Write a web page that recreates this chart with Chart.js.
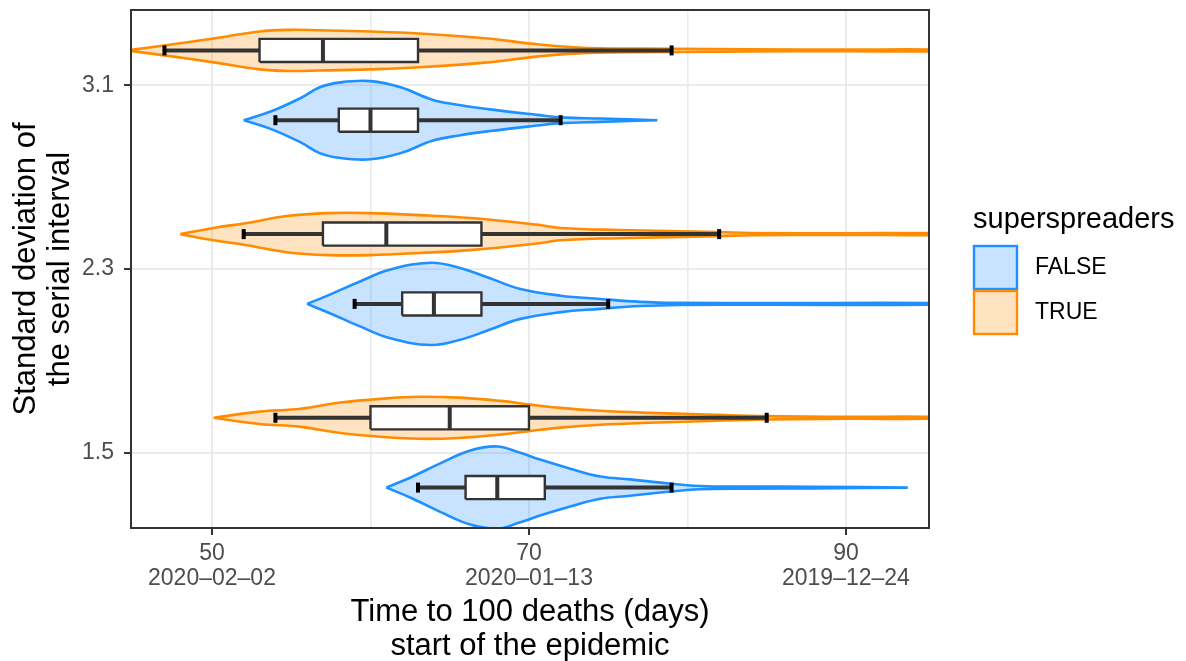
<!DOCTYPE html>
<html>
<head>
<meta charset="utf-8">
<script src="https://cdn.jsdelivr.net/npm/chart.js@4.4.1/dist/chart.umd.min.js"></script>
<style>
  html, body { margin: 0; padding: 0; background: #fff; }
  #wrap { width: 1186px; height: 661px; }
</style>
</head>
<body>
<div id="wrap"><canvas id="chart"></canvas></div>
<script>
// --- data ---
const sdLevels = ['1.5', '2.3', '3.1'];
const groups = ['FALSE', 'TRUE'];
const legendTitle = 'superspreaders';
const xTicks = [50, 70, 90];
const xDates = ['2020–02–02', '2020–01–13', '2019–12–24'];

// boxplot stats, one value per sd level (1.5, 2.3, 3.1)
const whiskerLowFalse = [63, 59, 54];
const q1False = [66, 62, 58];
const medianFalse = [68, 64, 60];
const q3False = [71, 67, 63];
const whiskerHighFalse = [79, 75, 72];

const whiskerLowTrue = [54, 52, 47];
const q1True = [60, 57, 53];
const medianTrue = [65, 61, 57];
const q3True = [70, 67, 63];
const whiskerHighTrue = [85, 82, 79];

// violin outlines: days and relative density
const daysFalse15 = [61.0, 62.5, 64.4, 66.3, 68.0, 69.4, 70.7, 72.6, 74.5, 76.4, 78.3, 80.8, 83.9, 88.0, 93.9];
const densFalse15 = [0, .24, .59, .90, 1.0, .85, .68, .46, .27, .20, .12, .04, .025, .02, 0];
const daysTrue15 = [50.1, 53.0, 55.6, 58.1, 60.6, 63.1, 65.6, 68.2, 70.1, 72.0, 74.5, 77.6, 80.8, 85.0, 90.0, 96.0];
const densTrue15 = [0, .15, .22, .37, .46, .51, .49, .41, .32, .24, .17, .12, .085, .04, .025, .02];

const daysFalse23 = [56.0, 57.4, 59.3, 61.2, 63.8, 65.6, 67.5, 69.4, 72.0, 74.5, 77.0, 79.5, 85.0, 96.0];
const densFalse23 = [0, .22, .54, .83, 1.0, .88, .63, .37, .20, .12, .05, .025, .02, .02];
const daysTrue23 = [48.0, 50.1, 52.2, 54.7, 57.3, 60.0, 63.1, 66.3, 70.5, 72.0, 75.7, 82.0, 84.0, 90.0, 96.0];
const densTrue23 = [0, .15, .27, .44, .51, .51, .46, .39, .23, .15, .10, .05, .025, .02, .02];

const daysFalse31 = [52.0, 53.7, 55.6, 56.8, 58.1, 60.0, 61.9, 63.9, 65.6, 67.4, 70.5, 72.0, 74.5, 78.1];
const densFalse31 = [0, .21, .54, .80, .92, .95, .80, .50, .37, .27, .13, .07, .04, 0];
const daysTrue31 = [44.6, 47.0, 50.1, 53.0, 54.9, 56.8, 60.0, 63.1, 67.4, 70.5, 73.7, 79.0, 84.0, 90.0, 96.0];
const densTrue31 = [0, .12, .29, .46, .50, .49, .46, .41, .29, .15, .06, .04, .025, .02, .02];

// --- looks ---
const FONT = "'Liberation Sans', Arial, Helvetica, sans-serif";
const lineColors = ['#1E90FF', '#FF8C00'];
const fillColors = ['rgba(30,144,255,0.25)', 'rgba(255,140,0,0.25)'];
const DODGE = 0.19;        // offset of FALSE / TRUE from the level
const BOX_HALF = 0.063;
const VIOLIN_HALF = 0.224;

const violins = [
  [[daysFalse15, densFalse15], [daysFalse23, densFalse23], [daysFalse31, densFalse31]],
  [[daysTrue15, densTrue15], [daysTrue23, densTrue23], [daysTrue31, densTrue31]]
];
const boxStats = [
  [whiskerLowFalse, q1False, medianFalse, q3False, whiskerHighFalse],
  [whiskerLowTrue, q1True, medianTrue, q3True, whiskerHighTrue]
];

const yCenter = (level, g) => level + (g === 0 ? -DODGE : DODGE);

const outline = (days, dens, yc) => {
  const upper = days.map((d, i) => ({x: d, y: yc + dens[i] * VIOLIN_HALF}));
  const lower = days.map((d, i) => ({x: d, y: yc - dens[i] * VIOLIN_HALF})).reverse();
  return [...upper, ...lower, upper[0]];
};

const datasets = [];

groups.forEach((g, gi) => {
  sdLevels.forEach((lv, li) => {
    const [days, dens] = violins[gi][li];
    datasets.push({
      label: g,
      data: outline(days, dens, yCenter(li, gi)),
      showLine: true,
      tension: 0.4,
      borderColor: lineColors[gi],
      backgroundColor: fillColors[gi],
      borderWidth: 2.6,
      fill: 'shape',
      pointRadius: 0,
      clip: 0,
      order: 4
    });
  });
});

groups.forEach((g, gi) => {
  const [lo, q1, med, q3, hi] = boxStats[gi];
  sdLevels.forEach((lv, li) => {
    const yc = yCenter(li, gi);
    datasets.push({
      label: g + ' box',
      data: [
        {x: q1[li], y: yc - BOX_HALF}, {x: q3[li], y: yc - BOX_HALF},
        {x: q3[li], y: yc + BOX_HALF}, {x: q1[li], y: yc + BOX_HALF},
        {x: q1[li], y: yc - BOX_HALF}
      ],
      showLine: true,
      borderColor: '#333333',
      backgroundColor: '#ffffff',
      borderWidth: 2.4,
      borderJoinStyle: 'miter',
      fill: 'shape',
      pointRadius: 0,
      order: 3
    });
    datasets.push({
      label: g + ' median',
      data: [{x: med[li], y: yc - BOX_HALF}, {x: med[li], y: yc + BOX_HALF}],
      showLine: true,
      borderColor: '#333333',
      borderWidth: 4,
      borderCapStyle: 'butt',
      pointRadius: 0,
      order: 2
    });
    // whiskers, with an end cap at the outer point
    [[lo[li], q1[li]], [hi[li], q3[li]]].forEach(([end, edge]) => {
      datasets.push({
        label: g + ' whisker',
        data: [{x: end, y: yc}, {x: edge, y: yc}],
        showLine: true,
        borderColor: '#333333',
        borderWidth: 4,
        pointStyle: 'line',
        rotation: 90,
        pointRadius: c => c.dataIndex === 0 ? 5 : 0,
        pointBorderColor: '#000000',
        pointBorderWidth: 4,
        pointBackgroundColor: '#000000',
        order: 1
      });
    });
  });
});

const panelBorder = {
  id: 'panelBorder',
  afterDatasetsDraw(chart) {
    const {ctx, chartArea: a} = chart;
    ctx.save();
    ctx.strokeStyle = '#333333';
    ctx.lineWidth = 2;
    ctx.strokeRect(a.left, a.top, a.right - a.left, a.bottom - a.top);
    ctx.restore();
  }
};

const ggLegend = {
  id: 'ggLegend',
  afterDraw(chart) {
    const {ctx, chartArea: a} = chart;
    const x0 = a.right + 45;
    const mid = (a.top + a.bottom) / 2;
    ctx.save();
    ctx.textAlign = 'left';
    ctx.fillStyle = '#000';
    ctx.font = `29px ${FONT}`;
    ctx.textBaseline = 'alphabetic';
    ctx.fillText(legendTitle, x0 - 1, mid - 41);
    groups.forEach((g, i) => {
      const top = mid - 23 + i * 45;
      ctx.fillStyle = '#fff';
      ctx.fillRect(x0, top, 43, 43);
      ctx.fillStyle = fillColors[i];
      ctx.fillRect(x0, top, 43, 43);
      ctx.strokeStyle = lineColors[i];
      ctx.lineWidth = 2.4;
      ctx.strokeRect(x0, top, 43, 43);
      ctx.fillStyle = '#000';
      ctx.font = `23px ${FONT}`;
      ctx.textBaseline = 'middle';
      ctx.fillText(g, x0 + 61, top + 22);
    });
    ctx.restore();
  }
};

const minorX = xTicks.slice(1).map((v, i) => (v + xTicks[i]) / 2);
const isMajorX = v => xTicks.includes(v);

new Chart(document.getElementById('chart'), {
  type: 'scatter',
  data: {datasets},
  options: {
    responsive: true,
    maintainAspectRatio: false,
    animation: false,
    layout: {padding: {left: 0, top: 10, right: 257, bottom: 0}},
    plugins: {
      legend: {display: false},
      tooltip: {enabled: false}
    },
    scales: {
      x: {
        type: 'linear',
        min: 44.89,
        max: 95.24,
        afterBuildTicks: s => { s.ticks = [...xTicks, ...minorX].sort((a, b) => a - b).map(v => ({value: v})); },
        afterFit: s => { s.height = 133; s.paddingLeft = 0; s.paddingRight = 0; },
        border: {display: false},
        grid: {
          color: '#EBEBEB',
          lineWidth: c => isMajorX(c.tick.value) ? 2 : 1.6,
          tickColor: c => isMajorX(c.tick.value) ? '#333333' : 'rgba(0,0,0,0)',
          tickLength: 7,
          tickWidth: 2
        },
        ticks: {
          autoSkip: false,
          maxRotation: 0,
          padding: 6,
          color: '#4D4D4D',
          font: {family: FONT, size: 23, lineHeight: 1.1},
          callback: v => {
            const i = xTicks.indexOf(v);
            return i < 0 ? '' : [String(v), xDates[i]];
          }
        },
        title: {
          display: true,
          text: ['Time to 100 deaths (days)', 'start of the epidemic'],
          color: '#000',
          font: {family: FONT, size: 31, lineHeight: 1.1},
          padding: {top: 0, bottom: -3}
        }
      },
      y: {
        type: 'linear',
        min: -0.41,
        max: 2.41,
        afterBuildTicks: s => { s.ticks = sdLevels.map((_, i) => ({value: i})); },
        afterFit: s => { s.width = 131; s.paddingTop = 0; s.paddingBottom = 0; },
        border: {display: false},
        grid: {
          color: '#EBEBEB',
          lineWidth: 2,
          tickColor: '#333333',
          tickLength: 7,
          tickWidth: 2
        },
        ticks: {
          autoSkip: false,
          padding: 10,
          color: '#4D4D4D',
          font: {family: FONT, size: 23},
          callback: v => sdLevels[v]
        },
        title: {
          display: true,
          text: ['Standard deviation of', 'the serial interval'],
          color: '#000',
          font: {family: FONT, size: 31, lineHeight: 1.1},
          padding: {top: 9, bottom: 0}
        }
      }
    }
  },
  plugins: [panelBorder, ggLegend]
});
</script>
</body>
</html>
